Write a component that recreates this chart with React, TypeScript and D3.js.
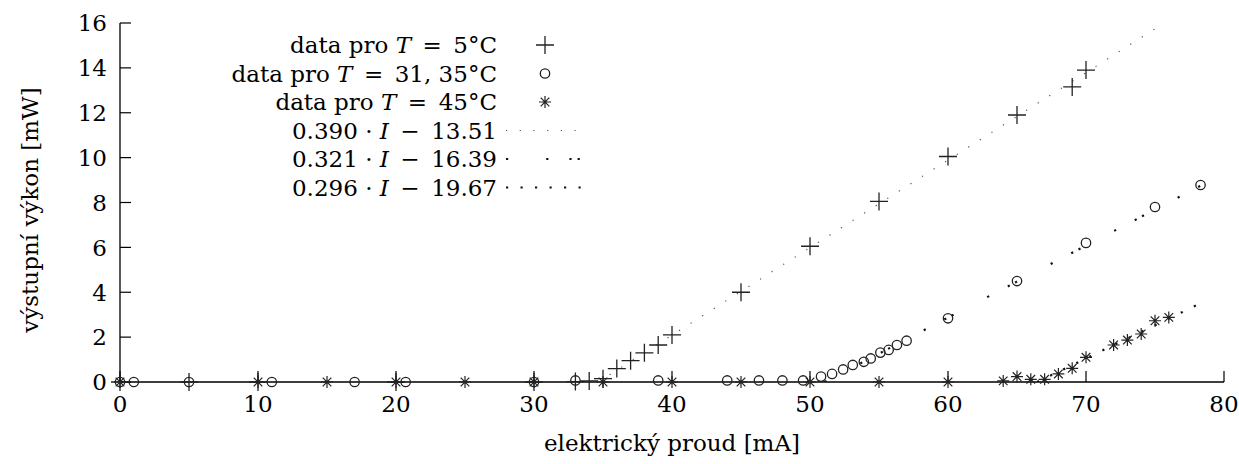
import React from "react";
import * as d3 from "d3";

// výkon laseru pro tři teploty
const I5 = [0, 5, 10, 20, 30, 33, 34, 35, 36, 37, 38, 39, 40, 45, 50, 55, 60, 65, 69, 70];
const P5 = [0, 0, 0, 0, 0, 0.02, 0.05, 0.15, 0.6, 0.95, 1.3, 1.65, 2.1, 4.0, 6.05, 8.05, 10.05, 11.9, 13.15, 13.9];

const I31 = [0, 1, 5, 11, 17, 20.7, 30, 33, 39, 44, 46.3, 48, 49.5, 50.8, 51.6, 52.4, 53.1, 53.9, 54.4, 55.1, 55.7, 56.3, 57, 60, 65, 70, 75, 78.3];
const P31 = [0, 0, 0, 0, 0, 0, 0, 0.07, 0.07, 0.07, 0.07, 0.07, 0.07, 0.24, 0.36, 0.56, 0.76, 0.9, 1.05, 1.31, 1.43, 1.65, 1.84, 2.84, 4.5, 6.2, 7.8, 8.78];

const I45 = [0, 10, 15, 20, 25, 30, 35, 40, 45, 50, 55, 60, 64, 65, 66, 67, 68, 69, 70, 72, 73, 74, 75, 76];
const P45 = [0, 0, 0, 0, 0, 0, 0, 0, 0, 0, 0, 0, 0.05, 0.24, 0.12, 0.12, 0.36, 0.61, 1.1, 1.65, 1.87, 2.14, 2.73, 2.88];

// fity a*I + b
const fitA = [0.39, 0.321, 0.296];
const fitB = [-13.51, -16.39, -19.67];
const fitLabels = ["0.390", "0.321", "0.296"];
const fitConst = ["13.51", "16.39", "19.67"];
const fitEnd = 78.3;

const xTicks = [0, 10, 20, 30, 40, 50, 60, 70, 80];
const yTicks = [0, 2, 4, 6, 8, 10, 12, 14, 16];

const W = 1239;
const H = 464;
const left = 120, right = 1224, top = 23, bottom = 382;
const ink = "#222";
const font = "'DejaVu Serif', 'Liberation Serif', serif";
const fs = 23;
const sp = "\u2002"; // širší mezera kolem operátorů

const x = d3.scaleLinear().domain([0, 80]).range([left, right]);
const y = d3.scaleLinear().domain([0, 16]).range([bottom, top]);

const dashes = ["1.2 12.5", "2.2 38 2.2 21 2.2 6", "2.2 12.3"];
const dashW = [1.2, 2.2, 2.2];

function Plus({ cx, cy, s = 9 }: { cx: number; cy: number; s?: number }) {
  return (
    <path d={`M${cx - s},${cy}H${cx + s}M${cx},${cy - s}V${cy + s}`} stroke={ink} strokeWidth={1.3} fill="none" />
  );
}

function Star({ cx, cy, s = 6 }: { cx: number; cy: number; s?: number }) {
  const d = s * 0.72;
  return (
    <path
      d={`M${cx - s},${cy}H${cx + s}M${cx},${cy - s}V${cy + s}M${cx - d},${cy - d}L${cx + d},${cy + d}M${cx - d},${cy + d}L${cx + d},${cy - d}`}
      stroke={ink}
      strokeWidth={1.2}
      fill="none"
    />
  );
}

function Circ({ cx, cy }: { cx: number; cy: number }) {
  return <circle cx={cx} cy={cy} r={4.7} stroke={ink} strokeWidth={1.3} fill="none" />;
}

export default function App() {
  const fits = fitA.map((a, k) => {
    const b = fitB[k];
    const x0 = Math.max(0, -b / a);
    const x1 = Math.min(fitEnd, (16 - b) / a);
    return `M${x(x0)},${y(a * x0 + b)}L${x(x1)},${y(a * x1 + b)}`;
  });

  const legY = (i: number) => 45 + i * 28.5;
  const legTextX = 497;
  const legSym = 545;

  return (
    <svg width={W} height={H} style={{ position: "absolute", left: 0, top: 0 }} fontFamily={font}>
      <rect width={W} height={H} fill="#fff" />
      {/* osy */}
      <path d={`M${left},${top}V${bottom}H${right}`} stroke="#000" strokeWidth={1.3} fill="none" />
      {yTicks.map((t) => (
        <g key={"y" + t}>
          <line x1={left} x2={left + 11} y1={y(t)} y2={y(t)} stroke="#000" strokeWidth={1.2} />
          <text x={left - 13} y={y(t)} dy="0.36em" textAnchor="end" fontSize={fs}>
            {t}
          </text>
        </g>
      ))}
      {xTicks.map((t) => (
        <g key={"x" + t}>
          <line x1={x(t)} x2={x(t)} y1={bottom} y2={bottom - 11} stroke="#000" strokeWidth={1.2} />
          <text x={x(t)} y={412} textAnchor="middle" fontSize={fs}>
            {t}
          </text>
        </g>
      ))}
      <text x={(left + right) / 2} y={451} textAnchor="middle" fontSize={fs}>
        elektrický proud [mA]
      </text>
      <text transform={`translate(38,${210}) rotate(-90)`} textAnchor="middle" fontSize={fs}>
        výstupní výkon [mW]
      </text>

      {/* fity */}
      <defs>
        <clipPath id="plotclip">
          <rect x={left} y={top} width={right - left} height={bottom - top} />
        </clipPath>
      </defs>
      <g clipPath="url(#plotclip)">
        {fits.map((d, k) => (
          <path key={k} d={d} stroke={k === 0 ? "#555" : "#111"} strokeWidth={dashW[k]} strokeDasharray={dashes[k]} fill="none" />
        ))}
      </g>

      {/* data */}
      {I5.map((v, i) => (
        <Plus key={"p" + i} cx={x(v)} cy={y(P5[i])} />
      ))}
      {I31.map((v, i) => (
        <Circ key={"c" + i} cx={x(v)} cy={y(P31[i])} />
      ))}
      {I45.map((v, i) => (
        <Star key={"s" + i} cx={x(v)} cy={y(P45[i])} />
      ))}

      {/* legenda */}
      <g fontSize={fs} textAnchor="end">
        <text x={legTextX} y={legY(0)} dy="0.36em">
          data pro <tspan fontStyle="italic">T</tspan>{sp}={sp}5°C
        </text>
        <text x={legTextX} y={legY(1)} dy="0.36em">
          data pro <tspan fontStyle="italic">T</tspan>{sp}={sp}31, 35°C
        </text>
        <text x={legTextX} y={legY(2)} dy="0.36em">
          data pro <tspan fontStyle="italic">T</tspan>{sp}={sp}45°C
        </text>
        {fitLabels.map((l, k) => (
          <text key={k} x={legTextX} y={legY(3 + k)} dy="0.36em">
            {l} · <tspan fontStyle="italic">I</tspan>{sp}−{sp}{fitConst[k]}
          </text>
        ))}
      </g>
      <Plus cx={legSym} cy={legY(0)} />
      <Circ cx={legSym} cy={legY(1)} />
      <Star cx={legSym} cy={legY(2)} />
      {fitLabels.map((l, k) => (
        <line
          key={"ll" + k}
          x1={506}
          x2={586}
          y1={legY(3 + k)}
          y2={legY(3 + k)}
          stroke={k === 0 ? "#555" : "#111"}
          strokeWidth={dashW[k]}
          strokeDasharray={dashes[k]}
        />
      ))}
    </svg>
  );
}
